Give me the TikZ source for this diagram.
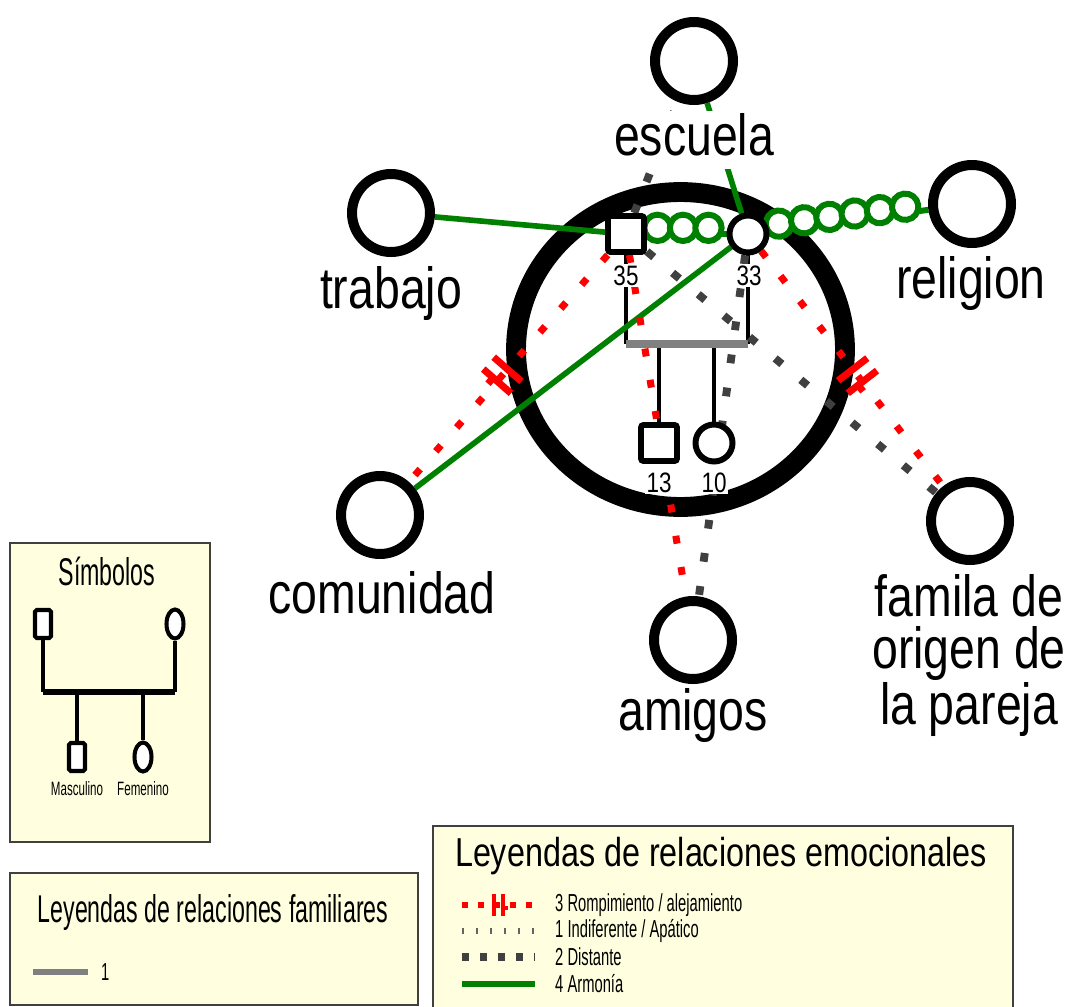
\documentclass[tikz,border=0pt]{standalone}
\usepackage{fontspec}
\setmainfont{Liberation Sans}[FakeStretch=0.8]
\newfontfamily\legfont{Liberation Sans}[FakeStretch=0.6]
\usetikzlibrary{shapes.geometric,decorations.markings,backgrounds}
\definecolor{harmgreen}{RGB}{0,128,0}
\definecolor{distgray}{RGB}{64,64,64}
\definecolor{famgray}{RGB}{128,128,128}
\definecolor{indgray}{RGB}{100,100,100}
\definecolor{legfill}{RGB}{255,255,224}

\begin{document}
\begin{tikzpicture}
    [
        x=0.02cm, y=-0.02cm,
        ctx/.style={circle, draw, line width=5.7pt, minimum size=1.56cm, inner sep=0pt, fill=white},
        ctxlabel/.style={anchor=base, fill=white, inner sep=1pt, text depth=7pt, align=center, font=\fontsize{33}{30}\selectfont},
        male/.style={rectangle, draw, line width=3.4pt, minimum size=0.72cm, rounded corners=1.5pt, fill=white},
        female/.style={circle, draw, line width=3.4pt, minimum size=0.74cm, fill=white},
        age/.style={anchor=base, fill=white, inner sep=1pt, font=\fontsize{16}{16}\selectfont},
        famline/.style={line width=2.8pt},
        famrel/.style={draw=famgray, line width=4pt},
        harmony/.style={draw=harmgreen, line width=3.2pt},
        distant/.style={draw=distgray, line width=4.5pt, dash pattern=on 5pt off 14pt},
        cutoff/.style={draw=red, line width=4pt, dash pattern=on 4.5pt off 13.5pt},
        cutmark/.style n args={3}{postaction={decorate, decoration={markings, mark=at position #1 with {
            \begin{scope}[scale=#2]
                \draw[red, solid, line width=#3] (-4.5pt,-10.5pt) -- (-4.5pt,10.5pt);
                \draw[red, solid, line width=#3] (4.5pt,-10.5pt) -- (4.5pt,10.5pt);
                \draw[red, solid, line width=#3] (4.5pt,-3pt) -- (9pt,-3pt);
            \end{scope}}}}},
        fused/.style={draw=harmgreen, line width=3.4pt, postaction={decorate, decoration={markings,
            mark=between positions 6pt and -6pt step 14.5pt with {
                \draw[harmgreen, solid, line width=3.4pt, fill=white] (0,3.5pt) circle (7.5pt);}}}},
        legbox/.style={draw=distgray, line width=0.8pt, fill=legfill},
        legtitle/.style={anchor=base, font=\legfont\fontsize{22}{22}\selectfont},
        legitem/.style={anchor=west, font=\legfont\fontsize{14}{14}\selectfont},
        legsmall/.style={anchor=base, font=\legfont\fontsize{11}{11}\selectfont},
        smale/.style={rectangle, draw, line width=2.3pt, minimum width=0.32cm, minimum height=0.56cm, rounded corners=1pt, fill=white},
        sfemale/.style={ellipse, draw, line width=2.3pt, minimum width=0.34cm, minimum height=0.58cm, inner sep=0pt, fill=white},
    ]
    \useasboundingbox (0,0) rectangle (1075,1007);

    % context circles
    \node (escuela)   at (694,61)  [ctx] {};
    \node (trabajo)   at (391,213) [ctx] {};
    \node (religion)  at (972,204) [ctx] {};
    \node (comunidad) at (380,515) [ctx] {};
    \node (amigos)    at (693,640) [ctx] {};
    \node (famila)    at (970,521) [ctx] {};

    \node (lescuela)   at (694,155) [ctxlabel] {escuela};
    \node (ltrabajo)   at (391,308) [ctxlabel] {trabajo};
    \node (lreligion)  at (971,298) [ctxlabel] {religion};
    \node (lcomunidad) at (382,613) [ctxlabel] {comunidad};
    \node (lamigos)    at (693,730) [ctxlabel] {amigos};
    \node (lfamila)    at (969,572) [ctxlabel, anchor=north] {famila de\\origen de\\la pareja};

    % household
    \node (father)   at (626,234) [male] {};
    \node (mother)   at (748,234) [female] {};
    \node (son)      at (659,443) [male] {};
    \node (daughter) at (714,443) [female] {};
    \coordinate (barl) at (626,344);
    \coordinate (barr) at (748,344);

    \node (a35) at (626,285) [age] {35};
    \node (a33) at (749,285) [age] {33};
    \node (a13) at (659,492) [age] {13};
    \node (a10) at (714,492) [age] {10};

    \begin{pgfonlayer}{background}
        \node (hogar) at (680.5,349.5) [ellipse, draw, line width=11.3pt, minimum width=6.58cm, minimum height=6.3cm, inner sep=0pt] {};

        \draw [famline] (father) -- (barl);
        \draw [famline] (mother) -- (barr);
        \draw [famline] (son) -- (son |- barl);
        \draw [famline] (daughter) -- (daughter |- barl);
        \draw [famrel] (barl) -- (barr);

        % emotional relations
        \draw [harmony] (trabajo) -- (father);
        \draw [harmony] (escuela) -- (mother);
        \draw [harmony] (comunidad) -- (mother);
        \draw [fused] (father) -- (mother);
        \draw [fused] (mother) -- (religion);
        \draw [distant] (father) -- (escuela);
        \draw [distant] (father) -- (famila);
        \draw [distant] (mother) -- (amigos);
        \draw [cutoff] (father) -- (amigos);
        \draw [cutoff, cutmark={0.53}{1}{4pt}] (father) -- (comunidad);
        \draw [cutoff, cutmark={0.53}{1}{4pt}] (mother) -- (famila);
    \end{pgfonlayer}

    % simbolos
    \draw [legbox] (10,543) rectangle (210,842);
    \node (symtitle) at (107,585) [legtitle] {Símbolos};
    \node (sm)   at (43,624)  [smale] {};
    \node (sf)   at (175,624) [sfemale] {};
    \node (sson) at (77,757)  [smale] {};
    \node (sdau) at (143,757) [sfemale] {};
    \coordinate (sbarl) at (43,692);
    \coordinate (sbarr) at (175,692);
    \draw [line width=2.3pt] (sm) -- (sbarl);
    \draw [line width=2.3pt] (sf) -- (sbarr);
    \draw [line width=2.3pt] (sson) -- (sson |- sbarl);
    \draw [line width=2.3pt] (sdau) -- (sdau |- sbarl);
    \draw [line width=3.4pt] (sbarl) -- (sbarr);
    \node (lmasc) at (77,795)  [legsmall] {Masculino};
    \node (lfem)  at (143,795) [legsmall] {Femenino};

    % relaciones familiares
    \draw [legbox] (10,873) rectangle (418,1005);
    \node (famtitle) at (213,922) [legtitle] {Leyendas de relaciones familiares};
    \coordinate (f1a) at (33,972);
    \coordinate (f1b) at (88,972);
    \draw [famrel, line width=3.4pt] (f1a) -- (f1b);
    \node (f1) at (95,972) [legitem] {1};

    % relaciones emocionales
    \fill [legfill] (433,826) rectangle (1013,1007);
    \draw [distgray, line width=0.8pt] (433,1007) -- (433,826) -- (1013,826) -- (1013,1007);
    \node (emtitle) at (721,866) [anchor=base, font=\fontsize{23}{23}\selectfont] {Leyendas de relaciones emocionales};
    \coordinate (e1a) at (462,905);
    \coordinate (e1b) at (535,905);
    \coordinate (e2a) at (462,931);
    \coordinate (e2b) at (535,931);
    \coordinate (e3a) at (462,957);
    \coordinate (e3b) at (535,957);
    \coordinate (e4a) at (462,984);
    \coordinate (e4b) at (535,984);
    \draw [cutoff, line width=3.4pt, dash pattern=on 3.4pt off 5.7pt, cutmark={0.5}{0.6}{2.2pt}] (e1a) -- (e1b);
    \draw [indgray, line width=3pt, dash pattern=on 1pt off 7pt] (e2a) -- (e2b);
    \draw [distant, line width=4pt, dash pattern=on 4pt off 6.2pt] (e3a) -- (e3b);
    \draw [harmony] (e4a) -- (e4b);
    \node (e1) at (549,905) [legitem] {3 Rompimiento / alejamiento};
    \node (e2) at (549,931) [legitem] {1 Indiferente / Apático};
    \node (e3) at (549,957) [legitem] {2 Distante};
    \node (e4) at (549,984) [legitem] {4 Armonía};
\end{tikzpicture}
\end{document}
